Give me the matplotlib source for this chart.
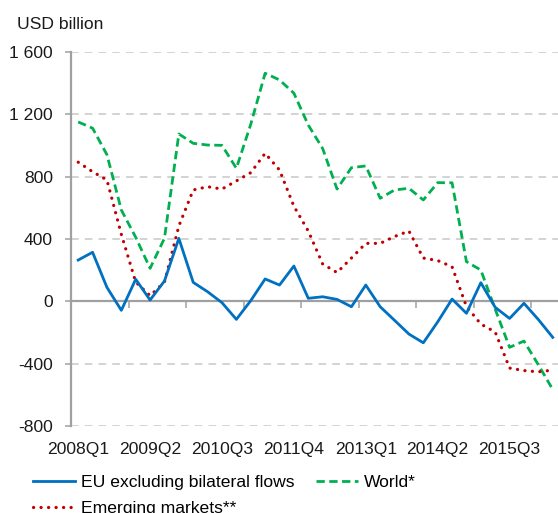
import matplotlib
matplotlib.use("Agg")
import matplotlib.pyplot as plt
import numpy as np

plt.rcParams['font.family'] = ['Liberation Sans', 'DejaVu Sans']

quarters = [f"{y}Q{q}" for y in range(2008, 2017) for q in range(1, 5)][:34]

eu = [265, 315, 90, -57, 142, 9, 131, 404, 122, 62, -8, -115, 5, 144, 105, 227,
      20, 30, 13, -34, 105, -34, -121, -209, -265, -131, 15, -76, 120, -38, -109, -12,
      -116, -230]
world = [1150, 1110, 940, 586, 411, 212, 405, 1073, 1013, 1002, 1000, 853, 1135, 1462, 1419, 1334,
         1130, 980, 720, 857, 868, 661, 714, 725, 650, 761, 760, 255, 201, -50, -294, -254,
         -406, -564]
emerging = [892, 831, 778, 430, 124, 37, 124, 483, 714, 735, 720, 772, 825, 949, 842, 610,
            451, 240, 185, 278, 372, 372, 416, 451, 278, 262, 222, -32, -145, -196, -427, -443,
            -451, -440]

yticks = [-800, -400, 0, 400, 800, 1200, 1600]
ytick_labels = ["-800", "-400", "0", "400", "800", "1 200", "1 600"]

FS = 12.6
W, H = 558, 513
fig = plt.figure(figsize=(W / 100, H / 100), dpi=100)
ax_left, ax_right = 71 / W, 1.0
ax_top, ax_bot = 1 - 51.7 / H, 1 - 426.3 / H
ax = fig.add_axes([ax_left, ax_bot, ax_right - ax_left, ax_top - ax_bot])

x = np.arange(len(quarters))
cat_w = 14.38
ax.set_xlim(-0.5, -0.5 + (W - 71) / cat_w)
ax.set_ylim(-800, 1600)

grid_c = '#c8c8c8'
for yv in yticks:
    if yv != 0:
        ax.axhline(yv, color=grid_c, lw=1.1, ls=(0, (5, 4)), zorder=1)

axis_c = '#a0a0a0'
for s in ['top', 'right', 'bottom']:
    ax.spines[s].set_visible(False)
ax.spines['left'].set_color(axis_c)
ax.spines['left'].set_linewidth(1.6)

ax.set_yticks(yticks)
ax.set_yticklabels(ytick_labels, fontsize=FS, color='#1a1a1a')
ax.tick_params(axis='y', length=4, width=1.1, color=axis_c, pad=9)

ax.set_xticks(x[::5])
ax.set_xticklabels([quarters[i] for i in x[::5]], fontsize=FS, color='#1a1a1a')
ax.tick_params(axis='x', length=0, pad=11)

# zero axis with boundary ticks every 4 quarters
sec = ax.secondary_xaxis(800 / 2400)
sec.set_xticks(np.arange(-0.5, len(quarters), 4))
sec.set_xticklabels([])
sec.tick_params(axis='x', direction='out', length=5, width=1.1, color=axis_c)
sec.spines['bottom'].set_color(axis_c)
sec.spines['bottom'].set_linewidth(1.6)

l_eu, = ax.plot(x, eu, color='#0070C0', lw=2.0, zorder=4, label='EU excluding bilateral flows')
l_w, = ax.plot(x, world, color='#00B050', lw=2.0, ls=(0, (3.0, 1.6)), zorder=3, label='World*')
l_em, = ax.plot(x, emerging, color='#C00000', lw=2.3, ls=(0, (0.05, 2.3)),
                dash_capstyle='round', zorder=3, label='Emerging markets**')

fig.text(17 / W, 1 - 29 / H, 'USD billion', fontsize=FS, color='#1a1a1a', va='baseline')

fig.legend(handles=[l_eu, l_em, l_w], ncol=2, loc='upper left',
           bbox_to_anchor=(33 / W, 1 - 475 / H), frameon=False, fontsize=FS,
           borderpad=0, borderaxespad=0, handlelength=2.4, handletextpad=0.34,
           columnspacing=1.25, labelspacing=0.62)

fig.savefig('out.png', dpi=100)
